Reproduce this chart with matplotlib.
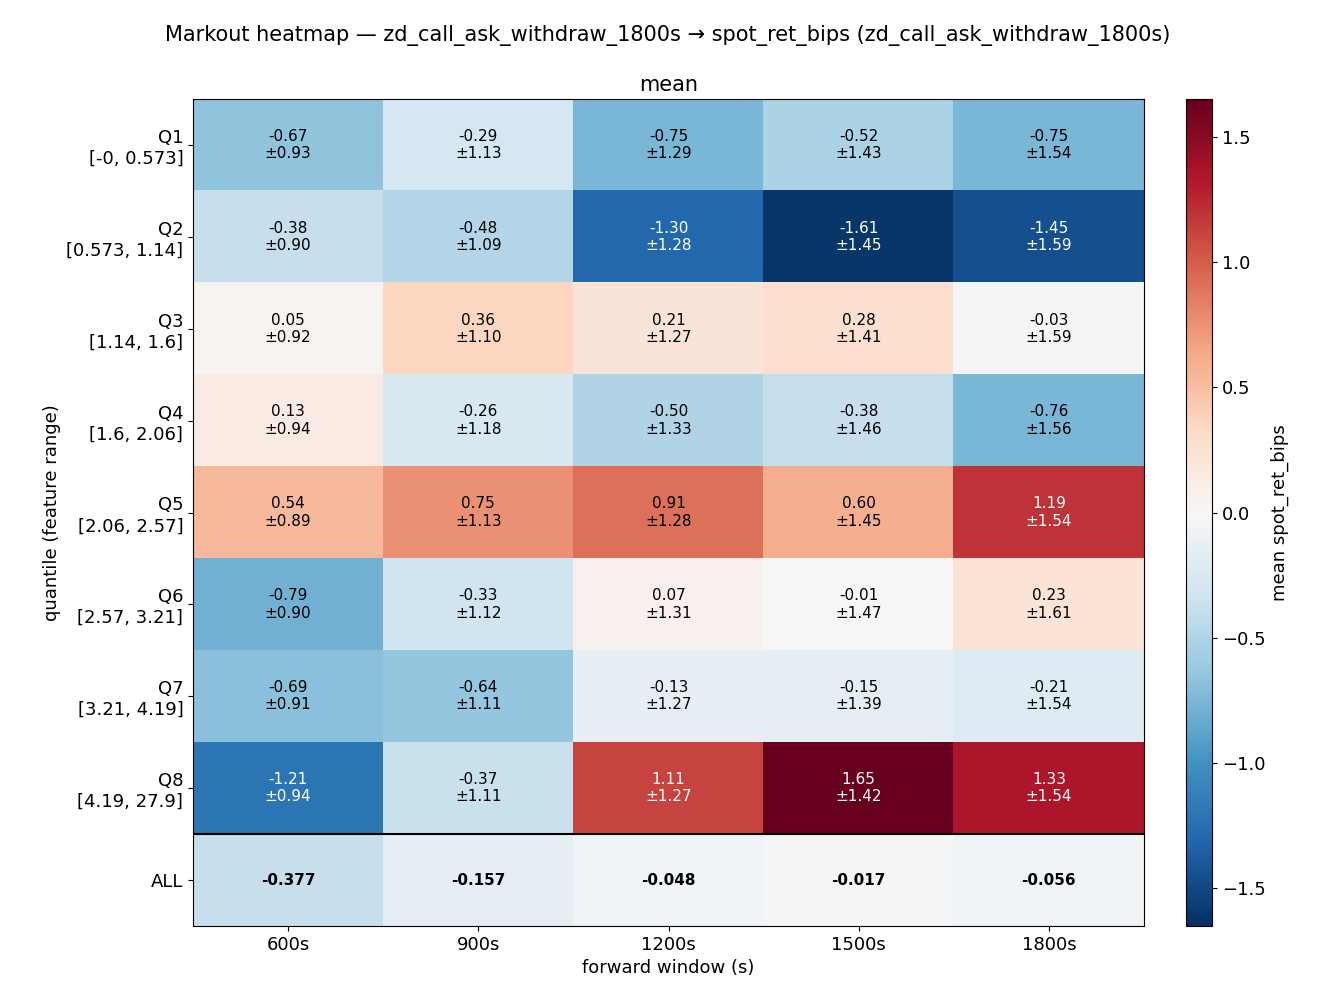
import matplotlib
matplotlib.use("Agg")
import matplotlib.pyplot as plt
import numpy as np

windows = ["600s", "900s", "1200s", "1500s", "1800s"]
rows = ["Q1\n[-0, 0.573]", "Q2\n[0.573, 1.14]", "Q3\n[1.14, 1.6]", "Q4\n[1.6, 2.06]",
        "Q5\n[2.06, 2.57]", "Q6\n[2.57, 3.21]", "Q7\n[3.21, 4.19]", "Q8\n[4.19, 27.9]", "ALL"]
means = [
    [-0.67, -0.29, -0.75, -0.52, -0.75],
    [-0.38, -0.48, -1.30, -1.61, -1.45],
    [0.05, 0.36, 0.21, 0.28, -0.03],
    [0.13, -0.26, -0.50, -0.38, -0.76],
    [0.54, 0.75, 0.91, 0.60, 1.19],
    [-0.79, -0.33, 0.07, -0.01, 0.23],
    [-0.69, -0.64, -0.13, -0.15, -0.21],
    [-1.21, -0.37, 1.11, 1.65, 1.33],
]
sds = [
    [0.93, 1.13, 1.29, 1.43, 1.54],
    [0.90, 1.09, 1.28, 1.45, 1.59],
    [0.92, 1.10, 1.27, 1.41, 1.59],
    [0.94, 1.18, 1.33, 1.46, 1.56],
    [0.89, 1.13, 1.28, 1.45, 1.54],
    [0.90, 1.12, 1.31, 1.47, 1.61],
    [0.91, 1.11, 1.27, 1.39, 1.54],
    [0.94, 1.11, 1.27, 1.42, 1.54],
]
all_row = [-0.377, -0.157, -0.048, -0.017, -0.056]

data = np.array(means + [all_row])
vmax = 1.65
fig = plt.figure(figsize=(13.36, 10.05), dpi=100)
ax = fig.add_axes([193/1336, 1-926/1005, (1144-193)/1336, (926-99)/1005])
cax = fig.add_axes([1186/1336, 1-926/1005, 26/1336, (926-99)/1005])
im = ax.imshow(data, cmap="RdBu_r", vmin=-vmax, vmax=vmax, aspect="auto")
for i in range(len(means)):
    for j in range(len(windows)):
        v = means[i][j]
        c = "white" if abs(v) > 1.0 else "black"
        ax.text(j, i, f"{v:.2f}\n±{sds[i][j]:.2f}", ha="center", va="center", fontsize=11, color=c)
for j, v in enumerate(all_row):
    ax.text(j, 8, f"{v:.3f}", ha="center", va="center", fontsize=11, fontweight="bold", color="black")
ax.axhline(7.5, color="black", lw=1.5)
ax.set_xticks(range(len(windows)))
ax.set_xticklabels(windows, fontsize=13)
ax.set_yticks(range(len(rows)))
ax.set_yticklabels(rows, fontsize=13)
ax.set_xlabel("forward window (s)", fontsize=13)
ax.set_ylabel("quantile (feature range)", fontsize=13)
ax.set_title("mean", fontsize=15)
cb = fig.colorbar(im, cax=cax)
cb.set_label("mean spot_ret_bips", fontsize=13)
cb.ax.tick_params(labelsize=13)
fig.suptitle("Markout heatmap — zd_call_ask_withdraw_1800s → spot_ret_bips (zd_call_ask_withdraw_1800s)",
             fontsize=15, y=0.975)
fig.savefig("out.png", dpi=100)
